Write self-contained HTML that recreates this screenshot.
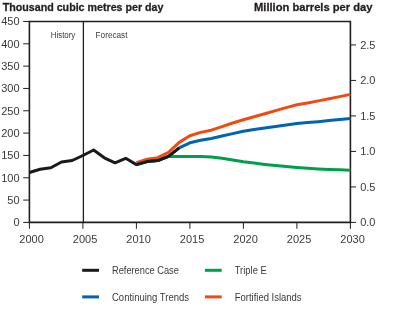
<!DOCTYPE html>
<html><head><meta charset="utf-8"><style>
html,body{margin:0;padding:0;background:#fff;width:400px;height:310px;overflow:hidden}
svg{display:block;will-change:transform}
text{font-family:"Liberation Sans", sans-serif;fill:#3a3a3a}
.t{font-weight:bold;fill:#231f20;stroke:#231f20;stroke-width:0.3px;font-size:11.5px}
.ax{font-size:11px}
.lg{font-size:10.2px}
.hf{font-size:9.2px}
</style></head><body>
<svg width="400" height="310" viewBox="0 0 400 310">
<text class="t" x="2.7" y="10.8" textLength="160.8" lengthAdjust="spacingAndGlyphs">Thousand cubic metres per day</text>
<text class="t" x="254" y="10.8" textLength="118.5" lengthAdjust="spacingAndGlyphs">Million barrels per day</text>
<path d="M29.4,21.5 H350.4 V222.4 H29.4 Z" fill="none" stroke="#231f20" stroke-width="1.6"/>
<line x1="23.2" y1="222.40" x2="29.4" y2="222.40" stroke="#231f20" stroke-width="1"/>
<text class="ax" x="19.6" y="226.30" text-anchor="end">0</text>
<line x1="23.2" y1="200.08" x2="29.4" y2="200.08" stroke="#231f20" stroke-width="1"/>
<text class="ax" x="19.6" y="203.98" text-anchor="end">50</text>
<line x1="23.2" y1="177.75" x2="29.4" y2="177.75" stroke="#231f20" stroke-width="1"/>
<text class="ax" x="19.6" y="181.65" text-anchor="end">100</text>
<line x1="23.2" y1="155.43" x2="29.4" y2="155.43" stroke="#231f20" stroke-width="1"/>
<text class="ax" x="19.6" y="159.33" text-anchor="end">150</text>
<line x1="23.2" y1="133.10" x2="29.4" y2="133.10" stroke="#231f20" stroke-width="1"/>
<text class="ax" x="19.6" y="137.00" text-anchor="end">200</text>
<line x1="23.2" y1="110.78" x2="29.4" y2="110.78" stroke="#231f20" stroke-width="1"/>
<text class="ax" x="19.6" y="114.68" text-anchor="end">250</text>
<line x1="23.2" y1="88.45" x2="29.4" y2="88.45" stroke="#231f20" stroke-width="1"/>
<text class="ax" x="19.6" y="92.35" text-anchor="end">300</text>
<line x1="23.2" y1="66.12" x2="29.4" y2="66.12" stroke="#231f20" stroke-width="1"/>
<text class="ax" x="19.6" y="70.03" text-anchor="end">350</text>
<line x1="23.2" y1="43.80" x2="29.4" y2="43.80" stroke="#231f20" stroke-width="1"/>
<text class="ax" x="19.6" y="47.70" text-anchor="end">400</text>
<line x1="23.2" y1="21.47" x2="29.4" y2="21.47" stroke="#231f20" stroke-width="1"/>
<text class="ax" x="19.6" y="25.37" text-anchor="end">450</text>
<line x1="350.4" y1="222.40" x2="356" y2="222.40" stroke="#231f20" stroke-width="1"/>
<text class="ax" x="360.2" y="226.30">0.0</text>
<line x1="350.4" y1="186.91" x2="356" y2="186.91" stroke="#231f20" stroke-width="1"/>
<text class="ax" x="360.2" y="190.81">0.5</text>
<line x1="350.4" y1="151.41" x2="356" y2="151.41" stroke="#231f20" stroke-width="1"/>
<text class="ax" x="360.2" y="155.31">1.0</text>
<line x1="350.4" y1="115.92" x2="356" y2="115.92" stroke="#231f20" stroke-width="1"/>
<text class="ax" x="360.2" y="119.82">1.5</text>
<line x1="350.4" y1="80.42" x2="356" y2="80.42" stroke="#231f20" stroke-width="1"/>
<text class="ax" x="360.2" y="84.32">2.0</text>
<line x1="350.4" y1="44.93" x2="356" y2="44.93" stroke="#231f20" stroke-width="1"/>
<text class="ax" x="360.2" y="48.83">2.5</text>
<line x1="29.40" y1="222.4" x2="29.40" y2="228.8" stroke="#231f20" stroke-width="1"/>
<text class="ax" x="31.60" y="242.5" text-anchor="middle">2000</text>
<line x1="82.90" y1="222.4" x2="82.90" y2="228.8" stroke="#231f20" stroke-width="1"/>
<text class="ax" x="85.10" y="242.5" text-anchor="middle">2005</text>
<line x1="136.40" y1="222.4" x2="136.40" y2="228.8" stroke="#231f20" stroke-width="1"/>
<text class="ax" x="138.60" y="242.5" text-anchor="middle">2010</text>
<line x1="189.90" y1="222.4" x2="189.90" y2="228.8" stroke="#231f20" stroke-width="1"/>
<text class="ax" x="192.10" y="242.5" text-anchor="middle">2015</text>
<line x1="243.40" y1="222.4" x2="243.40" y2="228.8" stroke="#231f20" stroke-width="1"/>
<text class="ax" x="245.60" y="242.5" text-anchor="middle">2020</text>
<line x1="296.90" y1="222.4" x2="296.90" y2="228.8" stroke="#231f20" stroke-width="1"/>
<text class="ax" x="299.10" y="242.5" text-anchor="middle">2025</text>
<line x1="350.40" y1="222.4" x2="350.40" y2="228.8" stroke="#231f20" stroke-width="1"/>
<text class="ax" x="352.60" y="242.5" text-anchor="middle">2030</text>
<line x1="83.4" y1="21.5" x2="83.4" y2="222.4" stroke="#231f20" stroke-width="1.3"/>
<text class="hf" x="50.8" y="37.7" textLength="24.5" lengthAdjust="spacingAndGlyphs">History</text>
<text class="hf" x="95.6" y="37.6" textLength="31.9" lengthAdjust="spacingAndGlyphs">Forecast</text>
<polyline points="136.40,162.60 147.10,159.30 157.80,157.70 168.50,152.30 179.20,142.40 189.90,135.80 200.60,132.40 211.30,130.20 222.00,126.60 232.70,123.00 243.40,119.70 254.10,116.70 264.80,113.80 275.50,110.60 286.20,107.60 296.90,104.80 307.60,102.90 318.30,100.90 329.00,98.80 339.70,96.60 350.40,94.40" fill="none" stroke="#ef4c12" stroke-width="3" stroke-linejoin="round" stroke-linecap="butt"/>
<polyline points="136.40,164.60 147.10,161.60 157.80,160.60 168.50,156.30 179.20,147.80 189.90,142.80 200.60,140.30 211.30,138.50 222.00,136.00 232.70,133.60 243.40,131.30 254.10,129.60 264.80,128.00 275.50,126.50 286.20,125.00 296.90,123.60 307.60,122.60 318.30,121.70 329.00,120.60 339.70,119.50 350.40,118.40" fill="none" stroke="#0064b1" stroke-width="3" stroke-linejoin="round" stroke-linecap="butt"/>
<polyline points="136.40,164.60 147.10,161.60 157.80,160.60 168.50,156.40 179.20,156.40 189.90,156.40 200.60,156.50 211.30,157.00 222.00,158.20 232.70,159.90 243.40,161.70 254.10,163.10 264.80,164.40 275.50,165.50 286.20,166.50 296.90,167.40 307.60,168.20 318.30,168.90 329.00,169.40 339.70,169.80 350.40,170.20" fill="none" stroke="#00a04b" stroke-width="3" stroke-linejoin="round" stroke-linecap="butt"/>
<polyline points="29.40,172.50 40.10,169.30 50.80,167.80 61.50,162.00 72.20,160.50 82.90,155.50 93.60,150.00 104.30,157.80 115.00,162.80 125.70,158.30 136.40,164.60 147.10,161.60 157.80,160.60 168.50,156.30 179.20,147.80" fill="none" stroke="#1a1a1a" stroke-width="3" stroke-linejoin="round" stroke-linecap="butt"/>
<line x1="82.2" y1="270.3" x2="99.0" y2="270.3" stroke="#1a1a1a" stroke-width="3"/>
<text class="lg" x="112.0" y="273.9" textLength="66.8" lengthAdjust="spacingAndGlyphs">Reference Case</text>
<line x1="204.9" y1="270.3" x2="221.7" y2="270.3" stroke="#00a04b" stroke-width="3"/>
<text class="lg" x="234.7" y="273.9" textLength="32.1" lengthAdjust="spacingAndGlyphs">Triple E</text>
<line x1="82.2" y1="296.9" x2="99.0" y2="296.9" stroke="#0064b1" stroke-width="3"/>
<text class="lg" x="112.0" y="300.5" textLength="77.0" lengthAdjust="spacingAndGlyphs">Continuing Trends</text>
<line x1="204.9" y1="296.9" x2="221.7" y2="296.9" stroke="#ef4c12" stroke-width="3"/>
<text class="lg" x="234.7" y="300.5" textLength="66.9" lengthAdjust="spacingAndGlyphs">Fortified Islands</text>
</svg>
</body></html>
